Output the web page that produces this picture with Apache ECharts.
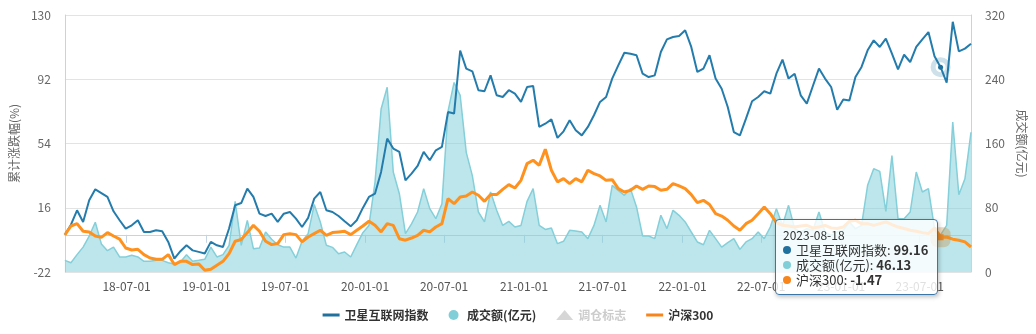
<!DOCTYPE html>
<html>
<head>
<meta charset="utf-8">
<script src="https://cdn.jsdelivr.net/npm/echarts@6/dist/echarts.min.js"></script>
<style>
html,body{margin:0;padding:0;background:#fff;}
#chart{width:1036px;height:334px;}
</style>
</head>
<body>
<div id="chart"></div>
<script>
// ---- categories: biweekly dates (Fridays) ----
const startDate = '2018-02-09';
const stepDays = 14;
const pointCount = 150;

// ---- series values ----
const indexValues = [
  0, 6, 14.5, 7.6, 20.4, 26.9, 24.7, 22.4, 13.9, 8.6,
  3.7, 5.6, 8.6, 1.7, 1.7, 2.7, 2.1, -4.2, -14.1, -9.7,
  -6.2, -9.2, -10.1, -11.1, -4.2, -6.2, -7.2, 3.7, 17.5, 18.8,
  27.3, 22.4, 12.5, 11.1, 12.5, 7.6, 12.5, 13.5, 9.6, 4.6,
  10.0, 21.4, 25.3, 14.5, 13.5, 11.1, 8.0, 5.0, 8.6, 15.9,
  22.4, 24.4, 37.2, 56.9, 51, 49.0, 32.2, 36.2, 40.7, 49.0,
  44.1, 50.0, 52.0, 72.6, 71.7, 109, 98.3, 96.7, 85.5, 84.9,
  94.3, 82.5, 81.5, 85.5, 83.5, 78.6, 87.4, 88, 63.8, 65.7,
  68.3, 57.3, 61.2, 67.7, 61.8, 58.8, 63.8, 70.7, 78.6, 81.5,
  92.4, 100.2, 107.7, 107.1, 106.2, 95.3, 93.3, 94.3, 108.1, 115.6,
  117.0, 117.6, 121, 111.1, 96.3, 98.3, 106.2, 92.4, 86.4, 75.6,
  60.8, 58.8, 68.7, 79.0, 81.5, 84.9, 83.5, 95.3, 103.6, 92.4,
  95.3, 82.5, 77.6, 88.0, 98.3, 92.4, 87.4, 74, 80, 79.5,
  93.3, 99.3, 109.1, 115.0, 111.1, 116.0, 107.1, 97.9, 106.5, 102.2,
  111.1, 115.6, 119.9, 105.6, 99.16, 90, 126, 108.5, 110.1, 113.0
];
const volumeValues = [
  14.5, 11.6, 21.6, 31, 44.8, 62, 35, 26.6, 31, 18.7,
  18.7, 20.8, 18.7, 13.3, 13.3, 14.5, 14.5, 11.6, 10, 12.5,
  21.6, 13.3, 14.5, 15.8, 31, 18.7, 21.6, 33.2, 88, 33.2,
  64.3, 29, 30, 49.8, 40.7, 34, 31, 31, 17.4, 38.2,
  47.7, 84, 62.3, 33.2, 30.7, 22.8, 24.9, 18.7, 34, 49,
  58, 112, 203, 230, 124.5, 97.5, 47.7, 60, 74.7, 103.8,
  78.9, 66.4, 85, 200, 236, 220, 149, 120, 74.7, 62.3,
  99.6, 76.8, 58, 63, 56, 58, 88, 103.8, 58, 53,
  54.8, 35.3, 38.2, 51.9, 51, 49.8, 41.5, 58, 83, 62.3,
  107.9, 101.7, 95.5, 103.8, 81, 44.8, 44.8, 41.5, 70.6, 54,
  76.8, 70.6, 62.3, 49.8, 37.4, 34, 51.9, 41.5, 31, 36.5,
  41.5, 28.2, 37.4, 41.5, 49.8, 41.5, 56, 78.9, 58, 83,
  54, 49.8, 54, 51.9, 74.7, 49.8, 45.6, 49.8, 51.9, 62.3,
  54, 58, 108, 128.7, 125.3, 75.5, 145, 66.4, 66.4, 74.7,
  124.5, 99.6, 103.8, 54, 46.13, 58, 186.8, 96.3, 116, 174
];
const hs300Values = [
  0, 5.2, 6.6, 2.1, 1.7, -0.7, -1.5, 1.3, -0.7, -2.6,
  -7.8, -9.0, -8.6, -11.7, -13.7, -14.5, -14.5, -11.7, -17.6, -15.7,
  -15.7, -17.6, -17.2, -21.0, -20.4, -18.0, -15.7, -11.1, -3.8, -2.8,
  1.3, 5.6, 2.1, -3.8, -5.8, -5.2, 0.1, 0.7, 0.1, -4.2,
  -1.3, 0.7, 2.7, -0.3, 1.3, 1.7, 2.1, 0.1, 2.7, 5.2,
  8.0, 5.6, 1.7, 6.6, 5.6, -2.3, -3.2, -1.9, -0.3, 2.7,
  1.7, 4.6, 6.6, 21.4, 18.4, 22.4, 23.0, 25.3, 23.4, 19.8,
  23.8, 23.8, 26.9, 29.7, 27.7, 32.2, 42.1, 44.1, 41.1, 50.6,
  38.2, 31.3, 33.2, 30.3, 33.2, 31.3, 38.2, 36.2, 34.8, 32.2,
  32.6, 27.3, 25.3, 26.3, 28.9, 26.9, 28.9, 28.5, 26.3, 26.9,
  30.3, 28.9, 27.3, 23.8, 19.0, 20.4, 17.9, 12.5, 11.1, 8.6,
  5.2, 2.7, 6.6, 8.6, 12.5, 16.5, 12.5, 7.2, 5.6, 5.2,
  4.6, 5.2, 5.6, 4.1, 4.6, 5.6, 4.1, 3.7, 4.6, 8.0,
  8.6, 6.6, 6.6, 5.6, 6.6, 7.6, 6.0, 4.6, 3.7, 2.7,
  2.1, 1.3, 0.7, 4.1, -1.47, -1.3, -2.6, -3.2, -4.2, -7.2
];
const rebalanceMarks = [];

// ---- axis settings ----
const leftTicks = [-22, 16, 54, 92, 130];
const rightTicks = [0, 80, 160, 240, 320];
const tooltipIndex = 144;

const seriesNames = ['卫星互联网指数', '成交额(亿元)', '调仓标志', '沪深300'];
const colors = { index: '#21719E', volume: '#80CFD8', mark: '#bbbbbb', hs300: '#F7851C' };

function pad(n) { return n < 10 ? '0' + n : '' + n; }
const dates = [];
(function () {
  const p = startDate.split('-').map(Number);
  const base = Date.UTC(p[0], p[1] - 1, p[2]);
  for (let i = 0; i < pointCount; i++) {
    const d = new Date(base + i * stepDays * 86400000);
    dates.push(d.getUTCFullYear() + '-' + pad(d.getUTCMonth() + 1) + '-' + pad(d.getUTCDate()));
  }
})();

const pair = arr => dates.map((d, i) => [d, arr[i]]);

const chart = echarts.init(document.getElementById('chart'), null, { renderer: 'canvas' });
const axisColor = '#c5d3e2';
const lineIcon = 'path://M0,0H17V3H0Z';

function marker(c) {
  return '<span style="display:inline-block;margin-right:5px;border-radius:4px;width:8px;height:8px;vertical-align:1px;background:' + c + '"></span>';
}

chart.setOption({
  animation: false,
  textStyle: { fontFamily: '"Microsoft YaHei","Noto Sans CJK SC",sans-serif' },
  grid: { left: 62, right: 61, top: 15, bottom: 62 },
  legend: {
    bottom: 8,
    left: 'center',
    itemWidth: 17,
    itemHeight: 10,
    itemGap: 20,
    inactiveColor: '#cccccc',
    textStyle: { fontSize: 12, fontWeight: 'bold', color: '#333' },
    selected: { '调仓标志': false },
    data: [
      { name: seriesNames[0], icon: lineIcon },
      { name: seriesNames[1], icon: 'circle' },
      { name: seriesNames[2], icon: 'triangle' },
      { name: seriesNames[3], icon: lineIcon }
    ]
  },
  tooltip: {
    trigger: 'axis',
    triggerOn: 'none',
    alwaysShowContent: true,
    transitionDuration: 0,
    axisPointer: { type: 'none' },
    position: [775, 219],
    backgroundColor: 'rgba(255,255,255,0.82)',
    borderColor: '#3a76a6',
    borderWidth: 1,
    padding: [7, 9, 7, 7],
    extraCssText: 'border-radius:4px;box-shadow:1px 2px 4px rgba(0,0,0,0.25);',
    formatter: function (params) {
      const d = echarts.time.format(params[0].axisValue, '{yyyy}-{MM}-{dd}', false);
      let html = '<div style="font-size:12px;line-height:15px;color:#333;">' + d + '</div>';
      params.forEach(function (p) {
        if (!p.value || p.value[1] == null) return;
        html += '<div style="font-size:13px;line-height:15px;color:#333;white-space:nowrap;">' +
          marker(p.color) + p.seriesName + ': <b>' + Number(p.value[1]).toFixed(2) + '</b></div>';
      });
      return html;
    }
  },
  xAxis: {
    type: 'time',
    min: dates[0],
    max: dates[dates.length - 1],
    minInterval: 182 * 86400000,
    maxInterval: 183 * 86400000,
    axisLine: { lineStyle: { color: axisColor } },
    axisTick: { show: true, length: 8, lineStyle: { color: axisColor } },
    splitLine: { show: false },
    axisLabel: {
      color: '#555',
      fontSize: 12,
      margin: 8,
      showMinLabel: false,
      showMaxLabel: false,
      hideOverlap: false,
      formatter: function (v) { return echarts.time.format(v, '{yy}-{MM}-{dd}', false); }
    }
  },
  yAxis: [
    {
      type: 'value',
      min: leftTicks[0],
      max: leftTicks[leftTicks.length - 1],
      interval: leftTicks[1] - leftTicks[0],
      name: '累计涨跌幅(%)',
      nameLocation: 'middle',
      nameGap: 44,
      nameRotate: 90,
      nameTextStyle: { color: '#666', fontSize: 12 },
      axisLine: { show: true, lineStyle: { color: axisColor } },
      axisTick: { show: false },
      axisLabel: { color: '#666', fontSize: 12, margin: 14 },
      splitLine: { show: true, lineStyle: { color: '#e3e3e3' } }
    },
    {
      type: 'value',
      min: rightTicks[0],
      max: rightTicks[rightTicks.length - 1],
      interval: rightTicks[1] - rightTicks[0],
      name: '成交额(亿元)',
      nameLocation: 'middle',
      nameGap: 45,
      nameRotate: -90,
      nameTextStyle: { color: '#666', fontSize: 12 },
      axisLine: { show: true, lineStyle: { color: axisColor } },
      axisTick: { show: false },
      axisLabel: { color: '#666', fontSize: 12, margin: 14 },
      splitLine: { show: false }
    }
  ],
  series: [
    {
      name: seriesNames[0],
      type: 'line',
      yAxisIndex: 0,
      z: 3,
      data: pair(indexValues),
      color: colors.index,
      showSymbol: false,
      symbol: 'circle',
      symbolSize: 5,
      lineStyle: { width: 2, color: colors.index },
      emphasis: {
        scale: false,
        lineStyle: { width: 2 },
        itemStyle: { borderWidth: 15, borderColor: 'rgba(33,113,158,0.22)' }
      }
    },
    {
      name: seriesNames[1],
      type: 'line',
      yAxisIndex: 1,
      z: 1,
      data: pair(volumeValues),
      color: colors.volume,
      symbol: 'none',
      showSymbol: false,
      lineStyle: { width: 1.5, color: '#84CFD9' },
      areaStyle: { color: 'rgba(128,207,216,0.75)' },
      emphasis: { disabled: true }
    },
    {
      name: seriesNames[2],
      type: 'scatter',
      yAxisIndex: 0,
      symbol: 'triangle',
      color: colors.mark,
      data: rebalanceMarks
    },
    {
      name: seriesNames[3],
      type: 'line',
      yAxisIndex: 0,
      z: 4,
      data: pair(hs300Values),
      color: colors.hs300,
      showSymbol: false,
      symbol: 'rect',
      symbolSize: 6,
      lineStyle: { width: 3, color: colors.hs300 },
      emphasis: {
        scale: false,
        lineStyle: { width: 3 },
        itemStyle: { borderWidth: 14, borderJoin: 'round', borderColor: 'rgba(200,140,60,0.35)' }
      }
    }
  ]
});

chart.dispatchAction({ type: 'showTip', seriesIndex: 0, dataIndex: tooltipIndex });
</script>
</body>
</html>
